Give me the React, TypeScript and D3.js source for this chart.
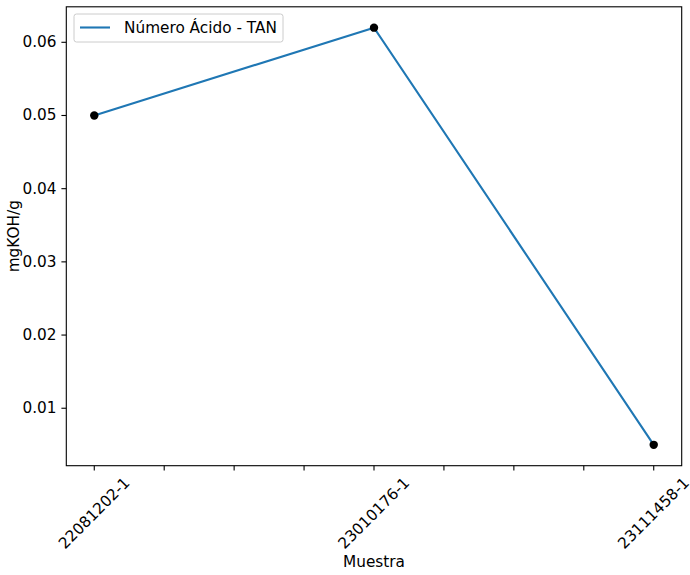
import React from "react";
import * as d3 from "d3";

const categories = ["22081202-1", "23010176-1", "23111458-1"];
const values = [0.05, 0.062, 0.005];
const yTicks = [0.01, 0.02, 0.03, 0.04, 0.05, 0.06];
const xTickPositions = [0, 0.25, 0.5, 0.75, 1, 1.25, 1.5, 1.75, 2];
const seriesName = "Número Ácido - TAN";

const W = 690, H = 575;
const M = { left: 66.3, right: 681.7, top: 6.8, bottom: 465.7 };
const FONT = "DejaVu Sans, sans-serif";
const FS = 15.3;

export default function App() {
  const x = d3.scaleLinear().domain([-0.1, 2.1]).range([M.left, M.right]);
  const ext = d3.extent(values) as [number, number];
  const pad = (ext[1] - ext[0]) * 0.05;
  const y = d3.scaleLinear().domain([ext[0] - pad, ext[1] + pad]).range([M.bottom, M.top]);
  const line = d3.line<number>().x((_, i) => x(i)).y((d) => y(d));
  const tickLen = 4.9;
  return (
    <svg width={W} height={H} style={{ position: "absolute", left: 0, top: 0, background: "#fff" }} fontFamily={FONT}>
      <rect x={0} y={0} width={W} height={H} fill="#fff" />
      <path d={line(values) || ""} fill="none" stroke="#1f77b4" strokeWidth={2.1} />
      {values.map((v, i) => (
        <circle key={i} cx={x(i)} cy={y(v)} r={4.2} fill="#000" />
      ))}
      <rect x={M.left} y={M.top} width={M.right - M.left} height={M.bottom - M.top} fill="none" stroke="#000" strokeWidth={1.1} />
      {yTicks.map((t) => (
        <g key={t}>
          <line x1={M.left} x2={M.left - tickLen} y1={y(t)} y2={y(t)} stroke="#000" strokeWidth={1.1} />
          <text x={M.left - tickLen - 4.9} y={y(t)} textAnchor="end" dominantBaseline="central" fontSize={FS}>
            {t.toFixed(2)}
          </text>
        </g>
      ))}
      {xTickPositions.map((t) => (
        <line key={t} x1={x(t)} x2={x(t)} y1={M.bottom} y2={M.bottom + tickLen} stroke="#000" strokeWidth={1.1} />
      ))}
      {categories.map((c, i) => (
        <text key={c} transform={`translate(${x(i)},${M.bottom + 47.5}) rotate(-45)`} textAnchor="middle" dominantBaseline="central" fontSize={FS}>
          {c}
        </text>
      ))}
      <text x={(M.left + M.right) / 2} y={562} textAnchor="middle" dominantBaseline="central" fontSize={FS}>Muestra</text>
      <text transform={`translate(14,${(M.top + M.bottom) / 2}) rotate(-90)`} textAnchor="middle" dominantBaseline="central" fontSize={FS}>mgKOH/g</text>
      <g>
        <rect x={74} y={14} width={209} height={28} rx={2.5} fill="#fff" fillOpacity={0.8} stroke="#ccc" strokeWidth={1} />
        <line x1={80} x2={110} y1={27.5} y2={27.5} stroke="#1f77b4" strokeWidth={2.1} />
        <text x={124} y={27.5} dominantBaseline="central" fontSize={FS}>{seriesName}</text>
      </g>
    </svg>
  );
}
